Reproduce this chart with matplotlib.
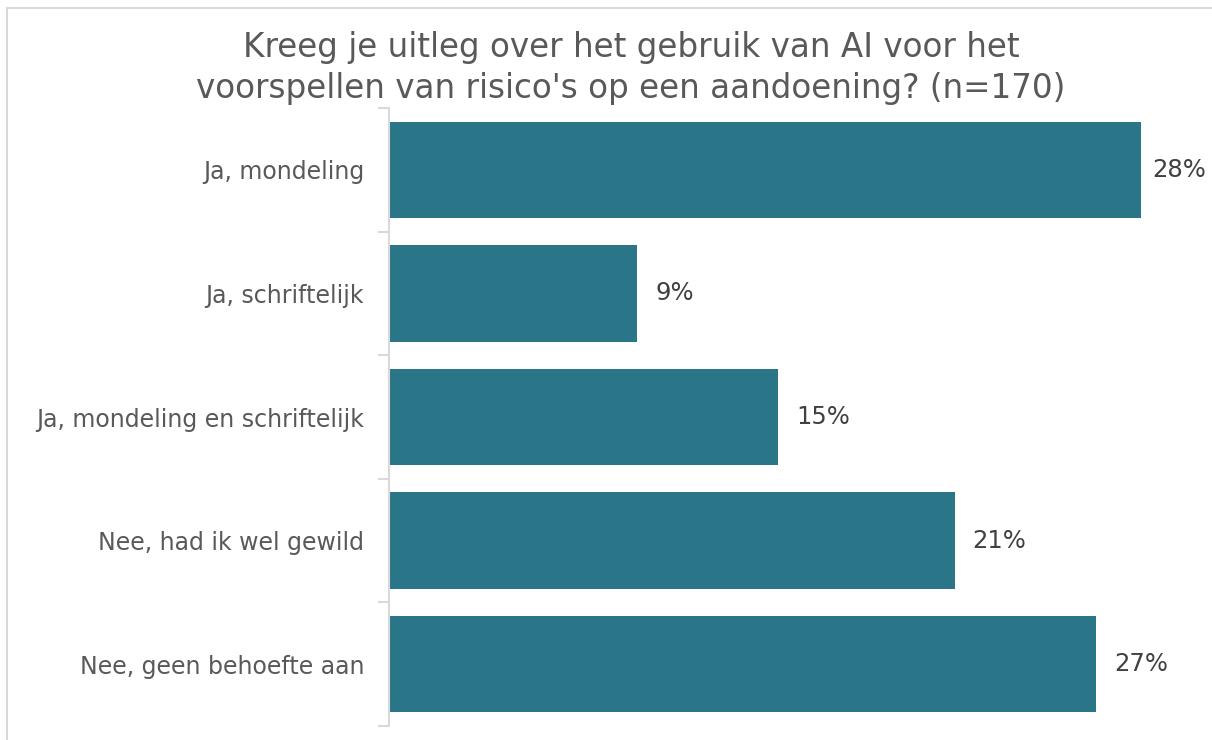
import matplotlib.pyplot as plt
from matplotlib.patches import Rectangle

categories = ['Ja, mondeling', 'Ja, schriftelijk', 'Ja, mondeling en schriftelijk',
              'Nee, had ik wel gewild', 'Nee, geen behoefte aan']
values = [28.2, 9.3, 14.6, 21.2, 26.5]
labels = ['28%', '9%', '15%', '21%', '27%']

title = "Kreeg je uitleg over het gebruik van AI voor het\nvoorspellen van risico's op een aandoening? (n=170)"

bar_color = '#2B7589'
grid_color = '#D9D9D9'

fig = plt.figure(figsize=(12.12, 7.4), dpi=100)
W, H = 1212, 740
# assen: links 389px, rechts 1200px, boven 108px, onder 726px
ax = fig.add_axes([389 / W, 1 - 726 / H, (1200 - 389) / W, (726 - 108) / H])

# rand om de figuur
fig.patches.append(Rectangle((7 / W, -0.1), 1.2, 1 - 8 / H + 0.1, transform=fig.transFigure,
                             fill=False, edgecolor='#D9D9D9', linewidth=1.5))

xmax = 30.4
y = list(range(len(categories)))
ax.barh(y, values, height=0.78, color=bar_color)
ax.set_ylim(len(categories) - 0.5, -0.5)
ax.set_xlim(0, xmax)

for i in range(len(values)):
    # label past niet altijd, dan binnen de plot houden
    lx = min(values[i] + 0.68, xmax - 1.8)
    ax.text(lx, y[i], labels[i], va='center', ha='left',
            fontsize=17.5, color='#404040', clip_on=False)

ax.set_yticks(y)
ax.set_yticklabels(categories, fontsize=17, color='#595959')
ax.set_yticks([i - 0.5 for i in range(len(categories) + 1)], minor=True)
ax.tick_params(axis='y', which='major', length=0, pad=18)
ax.tick_params(axis='y', which='minor', length=8, color=grid_color, width=1.5)
ax.set_xticks([])

for s in ['top', 'right', 'bottom']:
    ax.spines[s].set_visible(False)
ax.spines['left'].set_color(grid_color)
ax.spines['left'].set_linewidth(1.5)

fig.text(631 / W, 1 - 68 / H, title, ha='center', va='center', fontsize=23.5,
         color='#595959', linespacing=1.3)

fig.savefig('out.png', dpi=100)
